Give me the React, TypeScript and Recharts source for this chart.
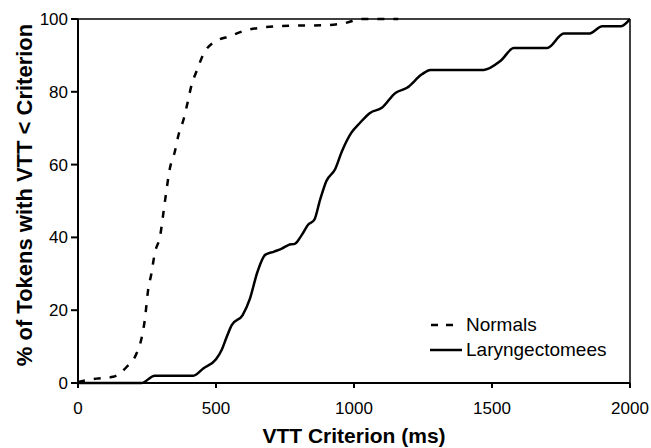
import React from 'react';
import {
  LineChart,
  Line,
  XAxis,
  YAxis,
  Legend,
  ReferenceLine,
  Label,
} from 'recharts';

// Normals (dashed) – cumulative % of tokens vs VTT criterion (ms)
const normalsMs = [0, 67, 127, 176, 212, 230, 242, 254, 266, 278, 297, 315, 333, 351, 363, 384, 397, 412, 430, 454, 490, 551, 599, 660, 720, 805, 902, 974, 1022, 1160];
const normalsPct = [0.3, 1.2, 1.7, 4.4, 8.1, 12.2, 17.3, 25.5, 30.1, 35.6, 40.2, 49.9, 59, 63.6, 67.8, 72.8, 77, 82, 85.7, 90.3, 93.5, 95.3, 96.7, 97.6, 98, 98.2, 98.3, 99, 100, 100];

// Laryngectomees (solid)
const laryngMs = [0, 230, 278, 418, 454, 500, 520, 539, 557, 596, 623, 650, 678, 711, 740, 762, 787, 811, 835, 856, 877, 900, 932, 956, 990, 1022, 1058, 1101, 1150, 1192, 1246, 1277, 1470, 1531, 1579, 1700, 1760, 1851, 1900, 1966, 2000];
const laryngPct = [0, 0, 2, 2, 4, 6.5, 9, 12.7, 15.9, 18.6, 23.2, 30.5, 35.2, 36.1, 37, 37.9, 38.3, 40.7, 43.6, 44.8, 50.3, 55.5, 58.8, 63.6, 68.7, 71.5, 74.2, 75.6, 79.7, 81.1, 84.8, 86, 86, 88.5, 92, 92, 96, 96, 98, 98, 100];

const xTicks = [0, 500, 1000, 1500, 2000];
const yTicks = [0, 20, 40, 60, 80, 100];

const normals = normalsMs.map((x, i) => ({ x, y: normalsPct[i] }));
const laryng = laryngMs.map((x, i) => ({ x, y: laryngPct[i] }));

const FONT = '"Liberation Sans", Arial, sans-serif';

function LegendBox() {
  const row = { display: 'flex', alignItems: 'center', height: 25 } as const;
  return (
    <div style={{ fontFamily: FONT, fontSize: 19, color: '#000' }}>
      <div style={row}>
        <svg width={36} height={10}>
          <line x1={1} y1={5} x2={23} y2={5} stroke="#000" strokeWidth={2.5} strokeDasharray="7 8" />
        </svg>
        <span>Normals</span>
      </div>
      <div style={row}>
        <svg width={36} height={10}>
          <line x1={0} y1={5} x2={32} y2={5} stroke="#000" strokeWidth={2.5} />
        </svg>
        <span>Laryngectomees</span>
      </div>
    </div>
  );
}

export default function App() {
  return (
    <div style={{ position: 'absolute', left: 0, top: 0, width: 651, height: 448, background: '#fff', fontFamily: FONT }}>
      <LineChart width={651} height={448} margin={{ top: 19, right: 21, left: 0, bottom: 0 }}>
        <XAxis
          dataKey="x"
          type="number"
          domain={[0, 2000]}
          ticks={xTicks}
          allowDataOverflow
          height={65}
          stroke="#000"
          strokeWidth={2}
          tickSize={5}
          tickMargin={14}
          tick={{ fill: '#000', fontSize: 17, fontFamily: FONT }}
        >
          <Label
            content={({ viewBox }: any) => (
              <text
                x={viewBox.x + viewBox.width / 2}
                y={viewBox.y + 60}
                textAnchor="middle"
                fontFamily={FONT}
                fontSize={21}
                fontWeight="bold"
                fill="#000"
              >
                VTT Criterion (ms)
              </text>
            )}
          />
        </XAxis>
        <YAxis
          dataKey="y"
          type="number"
          domain={[0, 100]}
          ticks={yTicks}
          width={78}
          stroke="#000"
          strokeWidth={2}
          tickSize={7}
          tickMargin={3}
          tick={{ fill: '#000', fontSize: 17, fontFamily: FONT }}
        >
          <Label
            content={({ viewBox }: any) => {
              const cx = 32;
              const cy = viewBox.y + viewBox.height / 2 - 6;
              return (
                <text
                  x={cx}
                  y={cy}
                  transform={`rotate(-90, ${cx}, ${cy})`}
                  textAnchor="middle"
                  fontFamily={FONT}
                  fontSize={22}
                  fontWeight="bold"
                  fill="#000"
                >
                  % of Tokens with VTT &lt; Criterion
                </text>
              );
            }}
          />
        </YAxis>
        <ReferenceLine y={100} stroke="#000" strokeWidth={1.5} />
        <ReferenceLine x={2000} stroke="#000" strokeWidth={1.5} />
        <Line
          data={normals}
          dataKey="y"
          name="Normals"
          type="monotone"
          stroke="#000"
          strokeWidth={2.5}
          strokeDasharray="7 9"
          dot={false}
          isAnimationActive={false}
        />
        <Line
          data={laryng}
          dataKey="y"
          name="Laryngectomees"
          type="monotone"
          stroke="#000"
          strokeWidth={2.5}
          dot={false}
          isAnimationActive={false}
        />
        <Legend
          layout="horizontal"
          align="center"
          verticalAlign="middle"
          content={() => <LegendBox />}
          wrapperStyle={{ position: 'absolute', left: 430, top: 312, width: 'auto', bottom: 'auto' }}
        />
      </LineChart>
    </div>
  );
}
